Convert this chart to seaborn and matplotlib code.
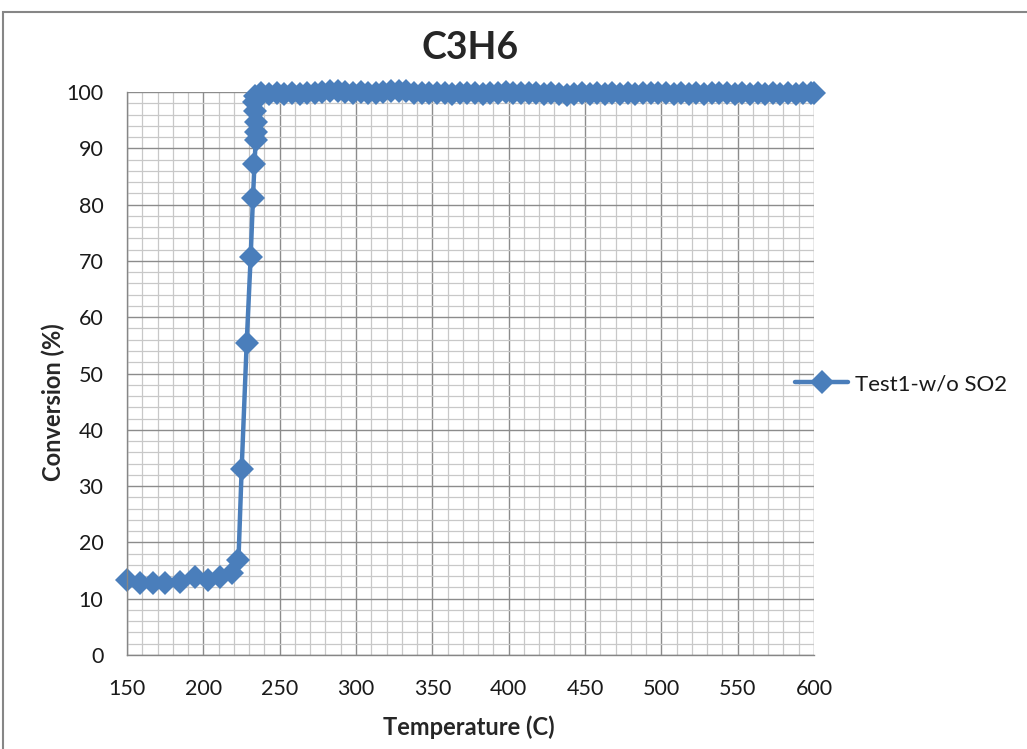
import numpy as np
import pandas as pd
import matplotlib
matplotlib.use("Agg")
import matplotlib.pyplot as plt
import seaborn as sns
from matplotlib.patches import Rectangle
from matplotlib.ticker import MultipleLocator

# ---- data ----
temperature = [150, 158.5, 167, 175, 185, 194.5, 203, 211, 219, 223,
               225.1, 228.4, 231.0, 232.5, 233.5, 234.3, 234.8, 234.5, 234.0, 233.5, 233.8,
               238, 243, 248, 253, 258, 263, 268, 273, 278, 283, 288, 293, 298, 303,
               308, 313, 318, 323, 328, 333, 338, 343, 348, 353, 358, 363, 368, 373,
               378, 383, 388, 393, 398, 403, 408, 413, 418, 423, 428, 433, 438, 443,
               448, 453, 458, 463, 468, 473, 478, 483, 488, 493, 498, 503, 508, 513,
               518, 523, 528, 533, 538, 543, 548, 553, 558, 563, 568, 573, 578, 583,
               588, 593, 598, 600]
conversion = [13.3, 12.8, 12.8, 12.8, 12.9, 13.8, 13.3, 13.8, 14.5, 16.8,
              33.0, 55.4, 70.7, 81.1, 87.2, 91.4, 92.9, 94.6, 96.7, 98.2, 99.3,
              99.8, 99.7, 99.8, 99.6, 99.8, 99.7, 99.9, 99.8, 100.0, 100.1, 100.2, 100.0, 99.9, 100.0,
              99.8, 99.9, 100.0, 100.1, 100.2, 100.1, 99.9, 99.8, 99.9, 99.8, 99.9, 99.7, 99.8, 99.9,
              99.8, 99.7, 99.8, 99.9, 100.0, 99.9, 99.8, 99.9, 99.8, 99.7, 99.8, 99.6, 99.5, 99.7,
              99.8, 99.7, 99.8, 99.7, 99.8, 99.7, 99.8, 99.7, 99.9, 99.8, 99.9, 99.8, 99.7, 99.8,
              99.7, 99.8, 99.7, 99.8, 99.9, 99.8, 99.7, 99.8, 99.7, 99.8, 99.7, 99.8, 99.7, 99.8,
              99.7, 99.8, 99.8, 99.8]
series_name = "Test1-w/o SO2"
title = "C3H6"
x_label = "Temperature (C)"
y_label = "Conversion (%)"

df = pd.DataFrame({"Temperature": temperature, "Conversion": conversion,
                   "Series": series_name})

sns.set_theme(style="white")
plt.rcParams["font.family"] = ["Lato", "DejaVu Sans"]

W, H = 1027, 749
fig = plt.figure(figsize=(W / 100, H / 100), dpi=100)
L, R, T, B = 127, 814, 92, 655
ax = fig.add_axes([L / W, 1 - B / H, (R - L) / W, (B - T) / H])

blue = "#4A7EBB"
sns.lineplot(data=df, x="Temperature", y="Conversion", hue="Series",
             palette=[blue], marker="D", markersize=12, linewidth=3.2,
             markeredgewidth=0, sort=False, estimator=None, ax=ax)
for ln in ax.lines:
    ln.set_clip_on(False)

ax.set_xlim(150, 600)
ax.set_ylim(0, 100)
ax.xaxis.set_major_locator(MultipleLocator(50))
ax.xaxis.set_minor_locator(MultipleLocator(10))
ax.yaxis.set_major_locator(MultipleLocator(10))
ax.yaxis.set_minor_locator(MultipleLocator(2))
ax.grid(which="major", color="#8c8c8c", linewidth=1.0)
ax.grid(which="minor", color="#c8c8c8", linewidth=0.9)
ax.set_axisbelow(True)

for s in ["top", "right"]:
    ax.spines[s].set_visible(False)
for s in ["left", "bottom"]:
    ax.spines[s].set_color("#868686")
    ax.spines[s].set_linewidth(1.0)

ax.tick_params(axis="both", which="major", labelsize=15.5, colors="#868686",
               labelcolor="#1a1a1a", length=6, direction="out", width=1)
ax.tick_params(axis="both", which="minor", length=0)
ax.tick_params(axis="x", pad=11)
ax.tick_params(axis="y", pad=11)

ax.set_xlabel(x_label, fontsize=17, fontweight="bold")
ax.set_ylabel(y_label, fontsize=17, fontweight="bold")
ax.xaxis.set_label_coords((469 - L) / (R - L), (B - 727) / (B - T))
ax.yaxis.set_label_coords((53 - L) / (R - L), (B - 402) / (B - T))
ax.xaxis.label.set_va("center")
ax.yaxis.label.set_va("center")
ax.set_title(title, fontsize=27, fontweight="bold", pad=24)

leg = ax.legend(loc="center left", bbox_to_anchor=((795 - L) / (R - L), (B - 384) / (B - T)),
                frameon=False, fontsize=16, handlelength=2.4, handletextpad=0.3,
                borderpad=0, borderaxespad=0)
for t in leg.get_texts():
    t.set_color("#1a1a1a")

fig.patches.append(Rectangle((3 / W, -0.01), 1.0, 1 - 12 / H + 0.01,
                             transform=fig.transFigure, fill=False,
                             edgecolor="#868686", linewidth=1.5))

fig.savefig("out.png", dpi=100)
